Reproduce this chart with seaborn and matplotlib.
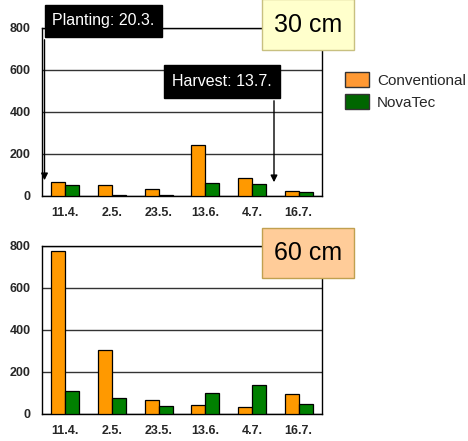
import numpy as np
import pandas as pd
import matplotlib
matplotlib.use("Agg")
import matplotlib.pyplot as plt
import seaborn as sns
from matplotlib.patches import Rectangle, Patch, FancyArrowPatch

dates = ["11.4.", "2.5.", "23.5.", "13.6.", "4.7.", "16.7."]
varieties = ["Conventional", "NovaTec"]
conv_30 = [67, 51, 35, 243, 87, 25]
nova_30 = [51, 3, 5, 63, 56, 17]
conv_60 = [775, 303, 67, 40, 32, 92]
nova_60 = [110, 76, 35, 100, 135, 44]
yticks = [0, 200, 400, 600, 800]

bar_colors = ["#FF9900", "#008000"]
legend_colors = ["#FF9933", "#006600"]

sns.set_style("white")
plt.rcParams["font.family"] = ["Liberation Sans", "DejaVu Sans"]

def long_df(conv, nova):
    return pd.DataFrame({
        "date": dates * 2,
        "variety": [varieties[0]] * len(dates) + [varieties[1]] * len(dates),
        "value": list(conv) + list(nova),
    })

W, H = 468, 441
fig = plt.figure(figsize=(W / 100, H / 100), dpi=100)

def px_axes(x0, y_top, x1, y_bot):
    return fig.add_axes([x0 / W, (H - y_bot) / H, (x1 - x0) / W, (y_bot - y_top) / H])

ax1 = px_axes(42, 28, 322, 196)
ax2 = px_axes(42, 246, 322, 413.7)

for ax, (c, n) in [(ax1, (conv_30, nova_30)), (ax2, (conv_60, nova_60))]:
    df = long_df(c, n)
    sns.barplot(data=df, x="date", y="value", hue="variety", hue_order=varieties,
                order=dates, palette=bar_colors, saturation=1, width=0.6, edgecolor="black",
                linewidth=0.9, ax=ax, legend=False, zorder=3)
    ax.set_xlim(-0.5, len(dates) - 0.5)
    ax.set_ylim(0, 800)
    ax.set_yticks(yticks)
    ax.set_yticklabels([str(v) for v in yticks], fontsize=9, fontweight="bold")
    ax.set_xticks(range(len(dates)))
    ax.set_xticklabels(dates, fontsize=9, fontweight="bold")
    ax.set_xticks(np.arange(-0.5, len(dates), 1.0), minor=True)
    ax.tick_params(axis="x", which="major", length=0, pad=8)
    ax.tick_params(axis="x", which="minor", length=4, width=1, direction="out", color="black")
    ax.tick_params(axis="y", length=4, width=1, direction="out", color="black", pad=4)
    ax.set_xlabel("")
    ax.set_ylabel("")
    ax.yaxis.grid(True, color="#333333", linewidth=1, zorder=0)
    ax.set_axisbelow(True)
    for s in ["left", "bottom", "top", "right"]:
        ax.spines[s].set_visible(True)
        ax.spines[s].set_color("black")
        ax.spines[s].set_linewidth(1)

def fig_box(x0, y_top, w, h, fc, ec, text, tc, fs):
    r = Rectangle((x0 / W, (H - y_top - h) / H), w / W, h / H, transform=fig.transFigure,
                  facecolor=fc, edgecolor=ec, linewidth=1, zorder=10)
    fig.add_artist(r)
    fig.text((x0 + w / 2) / W, (H - y_top - h / 2) / H, text, color=tc, fontsize=fs,
             ha="center", va="center", zorder=11)

fig.add_artist(FancyArrowPatch(
    (44.5 / W, (H - 37) / H), (44.5 / W, (H - 183) / H), transform=fig.transFigure,
    arrowstyle="-|>", mutation_scale=10, color="black", linewidth=1, zorder=9))
fig.add_artist(FancyArrowPatch(
    (274 / W, (H - 98) / H), (274 / W, (H - 185) / H), transform=fig.transFigure,
    arrowstyle="-|>", mutation_scale=10, color="black", linewidth=1, zorder=9))

fig_box(45, 5, 117, 32, "black", "black", "Planting: 20.3.", "white", 11.5)
fig_box(164, 65, 116, 33, "black", "black", "Harvest: 13.7.", "white", 11.5)
fig_box(262, -1, 92, 51, "#FFFFCC", "#C8C080", "30 cm", "black", 18)
fig_box(262, 228, 92, 50, "#FFCC99", "#C0A050", "60 cm", "black", 18)

handles = [Patch(facecolor=legend_colors[i], edgecolor="#333333", label=varieties[i]) for i in range(2)]
fig.legend(handles=handles, loc="upper left", bbox_to_anchor=(345 / W, (H - 72) / H),
           frameon=False, fontsize=11, handlelength=1.6, handleheight=1.1,
           handletextpad=0.5, labelspacing=0.45, borderpad=0, borderaxespad=0)

fig.savefig("out.png", dpi=100)
